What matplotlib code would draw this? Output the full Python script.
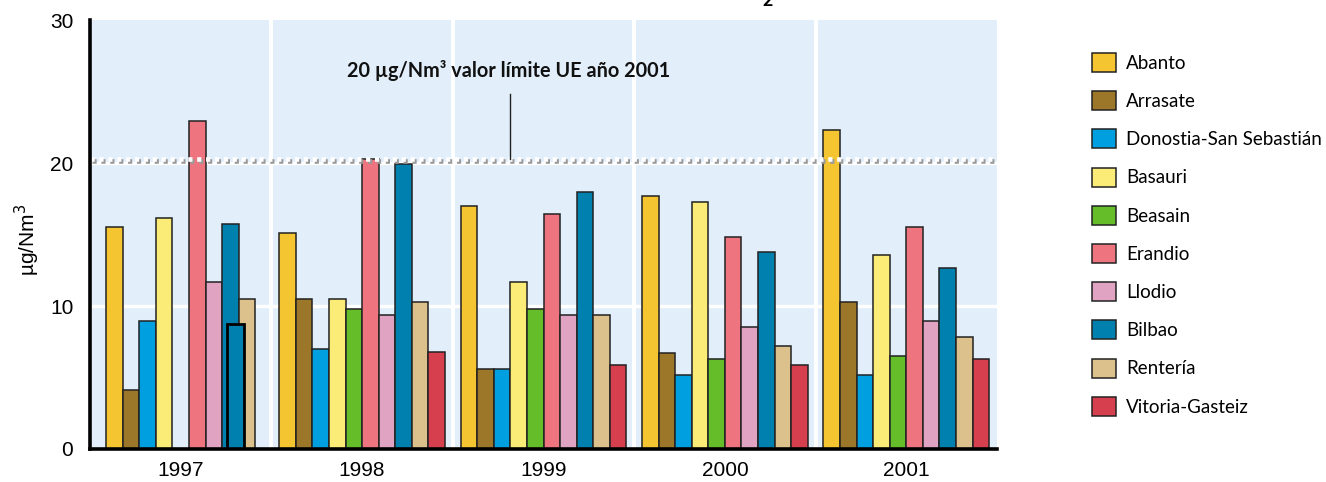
import numpy as np
import matplotlib
matplotlib.use("Agg")
import matplotlib.pyplot as plt
from matplotlib.patches import Patch
import matplotlib.transforms as mtransforms

plt.rcParams['lines.scale_dashes'] = False

years = ["1997", "1998", "1999", "2000", "2001"]
stations = ["Abanto", "Arrasate", "Donostia-San Sebastián", "Basauri", "Beasain",
            "Erandio", "Llodio", "Bilbao", "Rentería", "Vitoria-Gasteiz"]
colors = ["#F4C431", "#9C772A", "#00A0E0", "#FAEC77", "#66BD2A",
          "#EE7480", "#E0A3C2", "#0080AE", "#DCC18D", "#D63F4E"]

abanto   = [15.5, 15.1, 17.0, 17.7, 22.3]
arrasate = [4.1, 10.5, 5.6, 6.7, 10.3]
donostia = [8.95, 7.0, 5.6, 5.2, 5.2]
basauri  = [16.15, 10.5, 11.7, 17.3, 13.55]
beasain  = [np.nan, 9.8, 9.8, 6.3, 6.5]
erandio  = [22.95, 20.3, 16.4, 14.85, 15.5]
llodio   = [11.7, 9.4, 9.4, 8.5, 8.95]
bilbao   = [15.75, 19.9, 17.95, 13.75, 12.65]
renteria = [10.5, 10.25, 9.4, 7.2, 7.85]
vitoria  = [np.nan, 6.75, 5.85, 5.85, 6.3]
series = [abanto, arrasate, donostia, basauri, beasain,
          erandio, llodio, bilbao, renteria, vitoria]

# odd extra outlined bar in 1997 group
overlay_value = 8.75
overlay_slot = 3.3

limit_value = 20.3
limit_text = "20 µg/Nm³ valor límite UE año 2001"

fig = plt.figure(figsize=(13.26, 4.82), dpi=100)
ax = fig.add_axes([90/1326, 1-449/482, 907/1326, 429/482])
ax.set_facecolor("#E2EFFA")
ax.set_xlim(0, 5)
ax.set_ylim(0, 30)

w = 0.0915
for g in range(len(years)):
    present = [j for j in range(len(series)) if not (j == 9 and np.isnan(series[j][g]))]
    n = len(present)
    for k, j in enumerate(present):
        v = series[j][g]
        if np.isnan(v):
            continue
        x = g + 0.5 + (k - (n - 1) / 2) * w
        ax.bar(x, v, width=w, color=colors[j], edgecolor="#222222", linewidth=1.1, zorder=3)

ax.bar(0.5 + overlay_slot * w, overlay_value, width=w, color=colors[7],
       edgecolor="black", linewidth=2.0, zorder=4)

# grid
for xv in [1, 2, 3, 4]:
    ax.axvline(xv, color="white", lw=2.8, zorder=1)
for yv in [10, 20]:
    ax.axhline(yv, color="white", lw=2.4, zorder=1)

# dashed limit line with shadow
off = mtransforms.offset_copy(ax.transData, fig=fig, x=1.5, y=-1.8, units='dots')
ax.plot([0, 5], [limit_value, limit_value], color="#999999", lw=3.3,
        dashes=(3.0, 3.4), transform=off, zorder=5, dash_capstyle='butt')
ax.plot([0, 5], [limit_value, limit_value], color="white", lw=3.3,
        dashes=(3.0, 3.4), zorder=6, dash_capstyle='butt')

ax.plot([2.315, 2.315], [limit_value, 24.8], color="#222222", lw=1.0, zorder=6)
ax.text(2.31, 26.5, limit_text, ha="center", va="center", fontsize=14.3,
        fontweight="bold", family="Lato", color="#111111", zorder=7)

for s in ["top", "right"]:
    ax.spines[s].set_visible(False)
for s in ["left", "bottom"]:
    ax.spines[s].set_linewidth(2.6)
    ax.spines[s].set_zorder(10)

ax.set_yticks([0, 10, 20, 30])
ax.set_yticklabels(["0", "10", "20", "30"], fontsize=15, family="Liberation Sans")
ax.set_xticks([0.5, 1.5, 2.5, 3.5, 4.5])
ax.set_xticklabels(years, fontsize=15, family="Liberation Sans")
ax.tick_params(axis="both", length=0)
ax.tick_params(axis="y", pad=12)
ax.tick_params(axis="x", pad=9)

fig.text(27/1326, 1-240/482, "µg/Nm$^3$", rotation=90, ha="center", va="center",
         fontsize=15, family="Liberation Sans")

# cut-off title fragment
fig.text(768/1326, 1-6/482, "2", ha="center", va="baseline", fontsize=13,
         fontweight="bold", family="Lato")

fs = 13.5
px = fs * 100 / 72
handles = [Patch(facecolor=c, edgecolor="#222222", linewidth=1.1) for c in colors]
leg = fig.legend(handles, stations, loc="upper left",
                 bbox_to_anchor=(1092/1326, 1-53/482), frameon=False,
                 prop={"family": "Lato", "size": fs},
                 handlelength=24/px, handleheight=22/px, labelspacing=1.03,
                 handletextpad=0.55, borderpad=0, borderaxespad=0)

fig.savefig("out.png", dpi=100)
